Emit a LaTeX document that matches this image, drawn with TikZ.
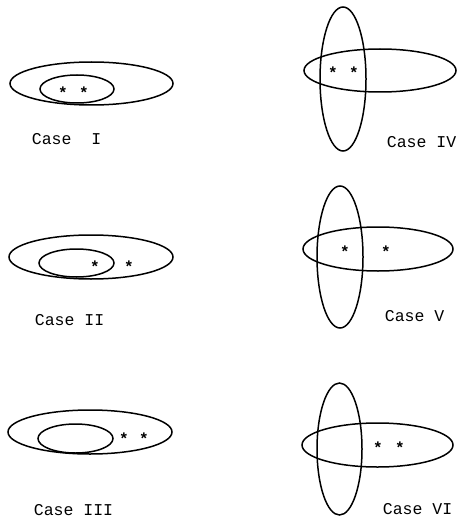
\documentclass[tikz,border=0pt]{standalone}
\usepackage{fontspec}
\newfontfamily\cour{Liberation Mono}
\usetikzlibrary{shapes.geometric}
\tikzset{
  set/.style={draw, ellipse, line width=1.5pt, inner sep=0pt, minimum width=#1},
  starmark/.style={font=\cour\bfseries\fontsize{16}{16}\selectfont, inner sep=0pt, anchor=center, yshift=-2.6pt},
  caselabel/.style={font=\cour\fontsize{16.5}{18}\selectfont, inner sep=0pt, anchor=base west}
}
\begin{document}
\begin{tikzpicture}[x=1pt,y=-1pt]
\useasboundingbox (0,0) rectangle (458,524);
% Case I
\node[set=163pt, minimum height=43pt] (o1) at (91.5,83.5) {};
\node[set=74pt, minimum height=28pt] (i1) at (77,89) {};
\node[starmark] (s1a) at (63,90) {*};
\node[starmark] (s1b) at (84,90) {*};
\node[caselabel] (l1) at (31.7,144) {Case~~I};
% Case II
\node[set=164pt, minimum height=44pt] (o2) at (91,257) {};
\node[set=75pt, minimum height=28pt] (i2) at (76.5,263) {};
\node[starmark] (s2a) at (95,264) {*};
\node[starmark] (s2b) at (129,264) {*};
\node[caselabel] (l2) at (34.7,325) {Case II};
% Case III
\node[set=164pt, minimum height=44pt] (o3) at (90,432) {};
\node[set=75pt, minimum height=29pt] (i3) at (75.5,438.5) {};
\node[starmark] (s3a) at (124,436) {*};
\node[starmark] (s3b) at (144,436) {*};
\node[caselabel] (l3) at (33.7,515) {Case III};
% Case IV
\node[set=46pt, minimum height=144pt] (v4) at (343,79) {};
\node[set=152pt, minimum height=43pt] (h4) at (380,70.5) {};
\node[starmark] (s4a) at (333,70) {*};
\node[starmark] (s4b) at (354,70) {*};
\node[caselabel] (l4) at (386.7,147) {Case IV};
% Case V
\node[set=46pt, minimum height=142pt] (v5) at (340,257) {};
\node[set=150pt, minimum height=44pt] (h5) at (378,249) {};
\node[starmark] (s5a) at (345,249) {*};
\node[starmark] (s5b) at (386,249) {*};
\node[caselabel] (l5) at (384.7,321) {Case V};
% Case VI
\node[set=45pt, minimum height=132pt] (v6) at (339.5,449) {};
\node[set=151pt, minimum height=44pt] (h6) at (377.5,445) {};
\node[starmark] (s6a) at (378,445) {*};
\node[starmark] (s6b) at (400,445) {*};
\node[caselabel] (l6) at (382.7,514) {Case VI};
\end{tikzpicture}
\end{document}
